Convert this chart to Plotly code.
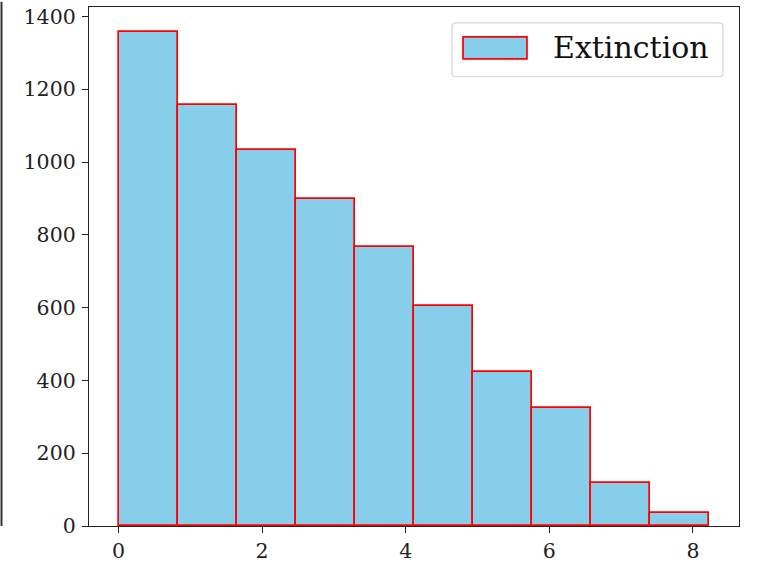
import plotly.graph_objects as go

# Histogram of extinction values: 10 bins between 0 and ~8.23
bin_edges = [0.0, 0.823, 1.646, 2.469, 3.292, 4.115, 4.938, 5.761, 6.584, 7.407, 8.23]
counts = [1358, 1157, 1034, 899, 767, 605, 424, 325, 119, 35]
series_name = "Extinction"
x_ticks = [0, 2, 4, 6, 8]
y_ticks = [0, 200, 400, 600, 800, 1000, 1200, 1400]

centers = [(a + b) / 2 for a, b in zip(bin_edges[:-1], bin_edges[1:])]
widths = [b - a for a, b in zip(bin_edges[:-1], bin_edges[1:])]

FILL = "#87CEEB"
EDGE = "#ff0000"
FONT = "DejaVu Serif"

fig = go.Figure()
fig.add_trace(go.Bar(
    x=centers, y=counts, width=widths,
    marker=dict(color=FILL, line=dict(color=EDGE, width=1.7)),
    name=series_name, showlegend=False,
))

span = bin_edges[-1] - bin_edges[0]
ymax = max(counts) * 1.05

axis_common = dict(
    showline=True, linecolor="#222", linewidth=1.3, mirror=True,
    ticks="outside", ticklen=6, tickwidth=1.3, tickcolor="#222",
    showgrid=False, zeroline=False,
    tickfont=dict(family=FONT, size=20.5, color="#222"),
)

fig.update_layout(
    width=757, height=569,
    margin=dict(l=89, r=18, t=5, b=43),
    paper_bgcolor="white", plot_bgcolor="white",
    bargap=0,
    xaxis=dict(range=[bin_edges[0] - 0.05 * span, bin_edges[-1] + 0.05 * span],
               tickvals=x_ticks, **axis_common),
    yaxis=dict(range=[0, ymax], tickvals=y_ticks, ticklabelstandoff=2, **axis_common),
)

# Legend frame with rounded corners, swatch and label
def rounded_rect(x0, y0, x1, y1, rx, ry):
    return (f"M{x0+rx},{y0} L{x1-rx},{y0} Q{x1},{y0} {x1},{y0+ry} "
            f"L{x1},{y1-ry} Q{x1},{y1} {x1-rx},{y1} L{x0+rx},{y1} "
            f"Q{x0},{y1} {x0},{y1-ry} L{x0},{y0+ry} Q{x0},{y0} {x0+rx},{y0} Z")

fig.add_shape(type="path", xref="paper", yref="paper",
              path=rounded_rect(0.5585, 0.8656, 0.9754, 0.9693, 0.006, 0.0077),
              line=dict(color="#d5d5d5", width=1.2), fillcolor="rgba(255,255,255,0.8)")
fig.add_shape(type="rect", xref="paper", yref="paper",
              x0=0.5754, x1=0.6738, y0=0.9002, y1=0.9424,
              line=dict(color=EDGE, width=1.7), fillcolor=FILL)
fig.add_annotation(xref="paper", yref="paper", x=0.7100, y=0.9213,
                   xanchor="left", yanchor="middle", showarrow=False,
                   text=series_name, font=dict(family=FONT, size=30, color="#111"))

# Thin vertical rule at the far left edge
fig.add_shape(type="line", xref="paper", yref="paper",
              x0=(1.5 - 89) / 650, x1=(1.5 - 89) / 650, y0=0, y1=1.01,
              line=dict(color="#333", width=2))

fig.write_html("out.html")
